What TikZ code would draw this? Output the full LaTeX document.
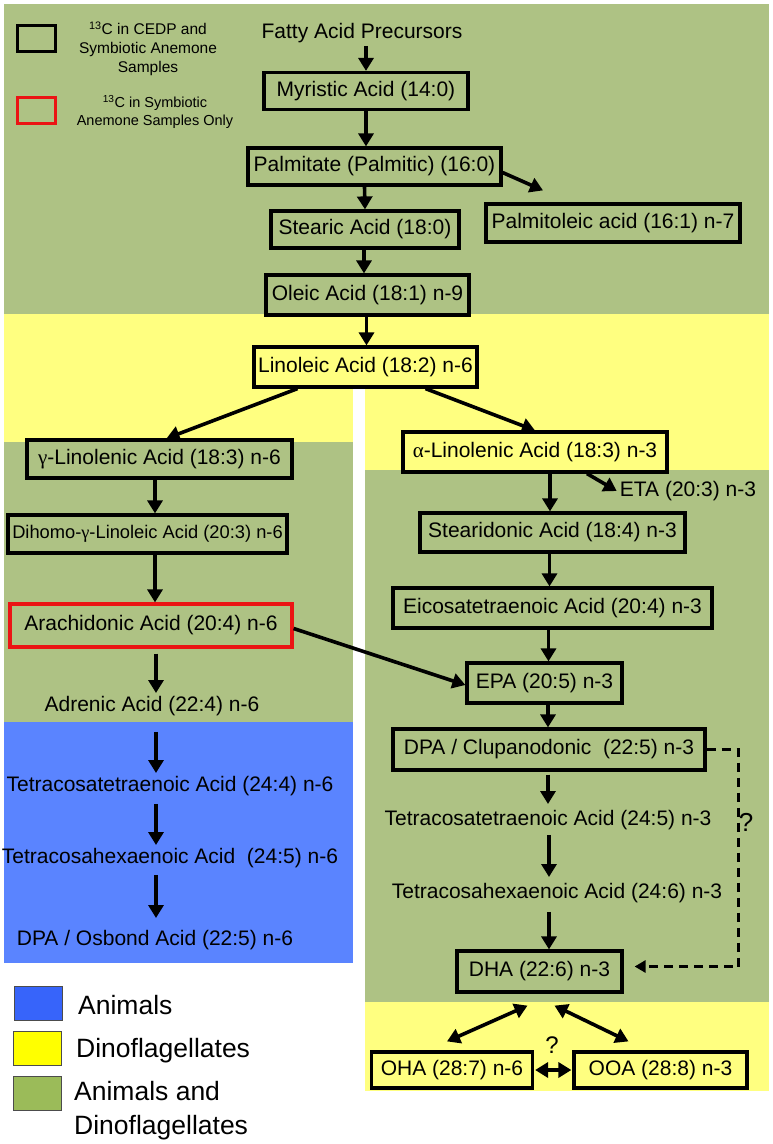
\documentclass[tikz,border=0pt]{standalone}
\usepackage{fontspec}
\setmainfont{Liberation Sans}
\newfontfamily\greekfont{Liberation Serif}
\usetikzlibrary{arrows.meta}
\definecolor{bothgreen}{RGB}{174,194,132}
\definecolor{dinoyellow}{RGB}{255,255,128}
\definecolor{animalblue}{RGB}{90,132,255}
\definecolor{legblue}{RGB}{55,100,250}
\definecolor{legyellow}{RGB}{255,255,0}
\definecolor{leggreen}{RGB}{155,187,89}
\definecolor{onlyred}{RGB}{235,20,20}
\tikzset{
acidbox/.style={draw, line width=3.2pt, inner sep=0pt, font=\fontsize{21}{25}\selectfont},
acidtext/.style={inner sep=3pt, font=\fontsize{21}{25}\selectfont},
pathway/.style={line width=3.6pt, -{Triangle[length=13pt,width=15pt]}},
twoway/.style={line width=3.6pt, {Triangle[length=13pt,width=15pt]}-{Triangle[length=13pt,width=15pt]}},
guess/.style={line width=3pt, dash pattern=on 9pt off 6pt, -{Triangle[length=11pt,width=12pt]}},
query/.style={inner sep=0pt, font=\fontsize{26}{30}\selectfont},
keybox/.style={draw, line width=3pt, minimum width=38, minimum height=26, inner sep=0pt},
keytext/.style={align=center, inner sep=0pt, font=\fontsize{15.5}{19}\selectfont},
swatch/.style={draw=black!70, line width=0.8pt, minimum width=48, minimum height=34, inner sep=0pt},
keylabel/.style={anchor=west, inner sep=3pt, font=\fontsize{26.5}{34}\selectfont}
}

\begin{document}
\begin{tikzpicture}[x=1pt,y=-1pt]
\useasboundingbox (0,0) rectangle (773,1144);
\fill[bothgreen] (4,4) rectangle (769,314);
\fill[dinoyellow] (4,314) rectangle (769,388);
\fill[dinoyellow] (4,388) rectangle (353,442);
\fill[dinoyellow] (365,388) rectangle (769,470);
\fill[bothgreen] (4,442) rectangle (353,722);
\fill[animalblue] (4,722) rectangle (353,963);
\fill[bothgreen] (365,470) rectangle (769,1002);
\fill[dinoyellow] (365,1002) rectangle (769,1091);

\node[keybox] (keyboth) at (36,38) {};
\node[keytext] (keybothtext) at (148,49) {\textsuperscript{13}C in CEDP and\\Symbiotic Anemone\\Samples};
\node[keybox, draw=onlyred] (keyred) at (36,110) {};
\node[keytext, font=\fontsize{14.5}{18}\selectfont] (keyredtext) at (155,112) {\textsuperscript{13}C in Symbiotic\\Anemone Samples Only};

\node[acidtext] (prec) at (362,33) {Fatty Acid Precursors};
\node[acidbox, minimum width=204, minimum height=37] (myr) at (366,91) {Myristic Acid (14:0)};
\node[acidbox, minimum width=253, minimum height=37] (palm) at (374.5,166.5) {Palmitate (Palmitic) (16:0)};
\node[acidbox, minimum width=188, minimum height=37] (stea) at (365,229.5) {Stearic Acid (18:0)};
\node[acidbox, minimum width=254, minimum height=38] (ptol) at (613,223) {Palmitoleic acid (16:1) n-7};
\node[acidbox, minimum width=203, minimum height=40] (olei) at (367.5,295) {Oleic Acid (18:1) n-9};
\node[acidbox, minimum width=223, minimum height=40] (lin) at (365.5,367) {Linoleic Acid (18:2) n-6};

\node[acidbox, minimum width=265, minimum height=38] (gam) at (159.5,459) {{\greekfont γ}-Linolenic Acid (18:3) n-6};
\node[acidbox, minimum width=279, minimum height=38, font=\fontsize{18.3}{22}\selectfont] (dih) at (147.5,534) {Dihomo-{\greekfont γ}-Linoleic Acid (20:3) n-6};
\node[acidbox, draw=onlyred, minimum width=282, minimum height=43] (arach) at (151,625.5) {Arachidonic Acid (20:4) n-6};
\node[acidtext] (adr) at (152,706) {Adrenic Acid (22:4) n-6};
\node[acidtext] (t244) at (170,786) {Tetracosatetraenoic Acid (24:4) n-6};
\node[acidtext] (t245l) at (170,858) {Tetracosahexaenoic Acid\ \ (24:5) n-6};
\node[acidtext] (osb) at (155,940) {DPA / Osbond Acid (22:5) n-6};

\node[acidbox, minimum width=264, minimum height=40] (alpha) at (535,452) {{\greekfont α}-Linolenic Acid (18:3) n-3};
\node[acidtext] (eta) at (688,491) {ETA (20:3) n-3};
\node[acidbox, minimum width=265, minimum height=39] (stear) at (552.5,532.5) {Stearidonic Acid (18:4) n-3};
\node[acidbox, minimum width=319, minimum height=40] (eico) at (552.5,608) {Eicosatetraenoic Acid (20:4) n-3};
\node[acidbox, minimum width=155, minimum height=40] (epa) at (544.5,683) {EPA (20:5) n-3};
\node[acidbox, minimum width=312, minimum height=41] (dpa) at (549,749.5) {DPA / Clupanodonic\ \ (22:5) n-3};
\node[acidtext] (t245r) at (548,820) {Tetracosatetraenoic Acid (24:5) n-3};
\node[acidtext] (t246r) at (557,893) {Tetracosahexaenoic Acid (24:6) n-3};
\node[acidbox, minimum width=165, minimum height=41] (dha) at (539.5,971.5) {DHA (22:6) n-3};
\node[acidbox, minimum width=161, minimum height=36] (oha) at (452,1070) {OHA (28:7) n-6};
\node[acidbox, minimum width=173, minimum height=36] (ooa) at (660.5,1070) {OOA (28:8) n-3};
\node[query] (q1) at (746,822) {?};
\node[query, font=\fontsize{24}{28}\selectfont] (q2) at (552,1045) {?};

\draw[pathway] (myr.north |- prec.south) -- (myr.north);
\draw[pathway] (myr.south) -- (myr.south |- palm.north);
\draw[pathway] ([xshift=-10pt]palm.south) -- (stea.north);
\draw[pathway] ([xshift=-1pt]stea.south) -- ([xshift=-1pt]stea.south |- olei.north);
\draw[pathway] ([xshift=-1pt]olei.south) -- ([xshift=-1pt]olei.south |- lin.north);
\draw[pathway] ([yshift=-6pt]palm.east) -- ([xshift=-70pt,yshift=12pt]ptol.north);
\draw[pathway] ([xshift=-68pt]lin.south) -- ([xshift=7pt]gam.north);
\draw[pathway] ([xshift=60pt]lin.south) -- (alpha.north);

\draw[pathway] ([xshift=-4.5pt]gam.south) -- ([xshift=-4.5pt]gam.south |- dih.north);
\draw[pathway] ([xshift=7.5pt]dih.south) -- ([xshift=7.5pt]dih.south |- arach.north);
\draw[pathway, shorten <=5pt] ([xshift=5pt]arach.south) -- ([xshift=5pt]arach.south |- adr.north);
\draw[pathway, shorten <=13pt] ([xshift=4pt]adr.south) -- ([xshift=4pt]adr.south |- t244.north);
\draw[pathway, shorten <=5pt] ([xshift=-14pt]t244.south) -- ([xshift=-14pt]t244.south |- t245l.north);
\draw[pathway, shorten <=4pt, shorten >=9pt] ([xshift=-14pt]t245l.south) -- ([xshift=-14pt]t245l.south |- osb.north);
\draw[pathway] ([yshift=-3pt]arach.east) -- ([yshift=-2pt]epa.west);

\draw[pathway] ([xshift=52pt]alpha.south) -- (eta.west);
\draw[pathway] ([xshift=-2.5pt]stear.north |- alpha.south) -- ([xshift=-2.5pt]stear.north);
\draw[pathway] ([xshift=-3pt]stear.south) -- ([xshift=-3pt]stear.south |- eico.north);
\draw[pathway] ([xshift=-4pt]eico.south) -- ([xshift=-4pt]eico.south |- epa.north);
\draw[pathway] ([xshift=3.5pt]epa.south) -- ([xshift=3.5pt]epa.south |- dpa.north);
\draw[pathway, shorten <=3pt, shorten >=3pt] ([xshift=-1pt]dpa.south) -- ([xshift=-1pt]dpa.south |- t245r.north);
\draw[pathway, shorten <=2pt, shorten >=3pt] ([xshift=9.5pt]dha.north |- t245r.south) -- ([xshift=9.5pt]dha.north |- t246r.north);
\draw[pathway, shorten <=6pt] ([xshift=9.5pt]dha.north |- t246r.south) -- ([xshift=9.5pt]dha.north);
\draw[guess] (dpa.east) -- ++(32,0) |- ([xshift=11pt,yshift=5pt]dha.east);
\draw[twoway] ([xshift=-12pt,yshift=-12pt]dha.south) -- ([xshift=-5pt,yshift=9pt]oha.north);
\draw[twoway] ([xshift=15pt,yshift=-12pt]dha.south) -- ([xshift=-32pt,yshift=9pt]ooa.north);
\draw[twoway, shorten <=1pt, shorten >=1pt] (oha.east) -- (ooa.west);

\node[swatch, fill=legblue] (keyanimal) at (38,1003) {};
\node[swatch, fill=legyellow] (keydino) at (37,1048) {};
\node[swatch, fill=leggreen] (keyall) at (37,1093) {};
\node[keylabel] (keyanimaltext) at (75,1005) {Animals};
\node[keylabel] (keydinotext) at (73,1051) {Dinoflagellates};
\node[keylabel, align=left] (keyalltext) at (71,1111) {Animals and\\Dinoflagellates};
\end{tikzpicture}
\end{document}
